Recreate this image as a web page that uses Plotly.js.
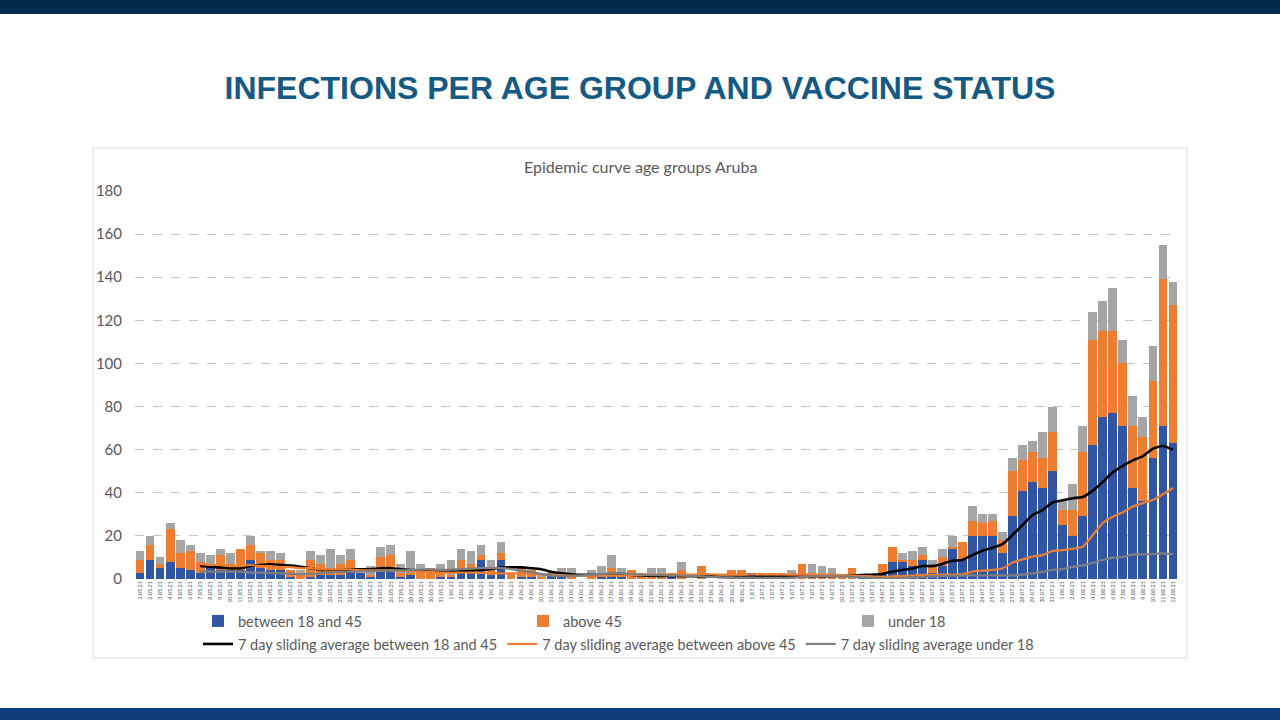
<!DOCTYPE html>
<html>
<head>
<meta charset="utf-8">
<script src="https://cdn.plot.ly/plotly-3.0.1.min.js"></script>
<style>
  html, body { margin: 0; padding: 0; background: #ffffff; }
  #chart { width: 1280px; height: 720px; }
</style>
</head>
<body>
<div id="chart"></div>
<script>
// Day categories (1 May 2021 - 12 Aug 2021)
const dates = [
  "1.05.21","2.05.21","3.05.21","4.05.21","5.05.21","6.05.21","7.05.21","8.05.21","9.05.21","10.05.21",
  "11.05.21","12.05.21","13.05.21","14.05.21","15.05.21","16.05.21","17.05.21","18.05.21","19.05.21","20.05.21",
  "21.05.21","22.05.21","23.05.21","24.05.21","25.05.21","26.05.21","27.05.21","28.05.21","29.05.21","30.05.21",
  "31.05.21","1.06.21","2.06.21","3.06.21","4.06.21","5.06.21","6.06.21","7.06.21","8.06.21","9.06.21",
  "10.06.21","11.06.21","12.06.21","13.06.21","14.06.21","15.06.21","16.06.21","17.06.21","18.06.21","19.06.21",
  "20.06.21","21.06.21","22.06.21","23.06.21","24.06.21","25.06.21","26.06.21","27.06.21","28.06.21","29.06.21",
  "30.06.21","1.07.21","2.07.21","3.07.21","4.07.21","5.07.21","6.07.21","7.07.21","8.07.21","9.07.21",
  "10.07.21","11.07.21","12.07.21","13.07.21","14.07.21","15.07.21","16.07.21","17.07.21","18.07.21","19.07.21",
  "20.07.21","21.07.21","22.07.21","23.07.21","24.07.21","25.07.21","26.07.21","27.07.21","28.07.21","29.07.21",
  "30.07.21","31.07.21","1.08.21","2.08.21","3.08.21","4.08.21","5.08.21","6.08.21","7.08.21","8.08.21",
  "9.08.21","10.08.21","11.08.21","12.08.21"
];

// Daily infections: between 18 and 45
const between18and45 = [
  3,9,5,8,5,4,3,6,4,4, 4,9,5,4,4,1,0,1,2,2, 2,4,3,1,5,5,1,2,0,0,
  1,1,4,3,9,2,9,0,1,1, 0,3,1,0,0,0,1,3,1,0, 0,0,0,2,0,0,0,0,0,0,
  0,3,0,0,0,0,0,0,0,0, 0,0,1,1,3,8,8,6,9,3, 6,14,9,20,20,20,12,29,41,45,
  42,50,25,20,29,62,75,77,71,42, 36,56,71,63
];
// Daily infections: above 45
const above45 = [
  6,7,2,15,7,9,5,1,7,3, 10,7,7,5,5,3,3,8,5,2, 5,5,0,1,5,6,2,1,4,5,
  2,1,5,4,2,3,3,3,4,3, 1,0,1,1,0,1,2,2,2,4, 3,2,2,1,4,0,6,0,0,4,
  4,0,3,3,3,1,7,3,2,2, 2,5,0,0,4,7,1,3,2,3, 4,1,8,7,6,7,6,21,14,14,
  14,18,7,12,30,49,40,38,29,29, 30,36,68,64
];
// Daily infections: under 18
const under18 = [
  4,4,3,3,6,3,4,4,3,5, 0,4,1,4,3,0,1,4,4,10, 4,5,0,4,5,5,4,10,3,0,
  4,7,5,6,5,4,5,0,0,0, 1,0,3,4,0,3,3,6,2,0, 0,3,3,0,4,0,0,0,0,0,
  0,0,0,0,0,3,0,4,4,3, 0,0,0,0,0,0,3,4,4,3, 4,5,0,7,4,3,4,6,7,5,
  12,12,4,12,12,13,14,20,11,14, 9,16,16,11
];

// 7 day sliding averages (start at 7.05.21)
const avgStart = 6;
const avg18to45 = [
  6,5.7,5.3,5,5,6,6.5,6.8,6.5,6.2, 5.7,5,4.2,4.2,4.2,4.5,4.5,4.5,5,
  5,4.5,4.2,3.9,3.4,3.4,3.4,3.6,3.9,4.2, 4.6,5.3,5.4,5.4,5,4.5,3.4,2.6,2.2,1.9, 1.9,1.9,2.3,2.3,1.9,
  1.6,1.5,1.4,1.4,1.4,1.3,1.2,1.2,1,1, 1,1,1,1,1,1.2,1.2,1.2,1.3,1.4, 1.5,1.6,1.8,2,
  2.3,3.4,4.2,4.9,6,6,7,8.5,8.8,11.1, 13.1,14.5,16.2,20.4,25,29.7,32,35.5,36.5,37.5,
  38,41,45,49.5,52.5,55,57,60.5,61.7,60
];
const avgAbove45 = [
  7,6.5,6.5,6,6,6.5,6,6,5.5,5.5, 5,5,4.5,4.5,4.5,4.5,4,4,4,
  4,3.8,3.6,3.4,3.2,3,3,3,3,2.8, 2.8,2.6,2.6,2.6,2.4,2.2,2,1.8,1.6,1.5, 1.5,1.5,1.6,1.6,1.8,
  1.8,2,2,2,2,2,2.2,2.2,2,2, 2,2.2,2.2,2.2,2.2,2,2,2,2,2, 1.8,1.6,1.4,1.2,
  1,1.2,1.4,1.6,1.9,1.9,2,2,2.2,3.4, 3.9,4.2,4.9,7.6,9.1,10.4,11.1,13,13.4,14.1,
  15,20.4,26,28.9,31,33.6,35.2,36.6,39.3,42.2
];
const avgUnder18 = [
  3.6,3.4,3.4,3.4,3.4,3,3,2.8,2.6,2.4, 2.2,2.4,2.6,3,3.2,3.4,3.4,3.6,3.8,
  4,4,4.2,4.4,4.4,4.2,4.4,4.6,4.8,5, 5,5,4.6,3.8,3.2,2.4,1.6,1.4,1.4,1.6, 2,2.4,2.6,2.6,2.4,
  2,1.8,1.8,1.6,1.6,1.4,1.2,1,0.8,0.8, 0.6,0.6,0.5,0.5,0.5,0.6,1,1.2,1.4,1.4, 1.2,1,0.8,0.5,
  0.3,0.3,0.5,0.8,1,1.2,1.4,1.6,1.6,1.7, 1.7,1.7,1.7,1.7,2,2.6,3.3,4.3,4.6,5.6,
  6.3,7.5,8.8,9.8,10.2,11.4,11.4,11.6,11.9,11.6
];

const seriesNames = ["between 18 and 45", "above 45", "under 18"];
const avgNames = [
  "7 day sliding average between 18 and 45",
  "7 day sliding average between above 45",
  "7 day sliding average under 18"
];

const barColors = ["#2f55a3", "#ed7d31", "#a5a5a5"];
const lineColors = ["#000000", "#ed7d31", "#7f7f7f"];
const textColor = "#595959";
const fontFam = "Lato, 'Open Sans', sans-serif";

const barValues = [between18and45, above45, under18];
const traces = [];
barValues.forEach((vals, i) => {
  traces.push({
    type: "bar", x: dates, y: vals, name: seriesNames[i],
    marker: { color: barColors[i], line: { width: 0 } },
    legend: "legend", hoverinfo: "x+y+name"
  });
});
const avgValues = [avg18to45, avgAbove45, avgUnder18];
const avgDates = dates.slice(avgStart);
avgValues.forEach((vals, i) => {
  traces.push({
    type: "scatter", mode: "lines", x: avgDates, y: vals, name: avgNames[i],
    line: { color: lineColors[i], width: i === 0 ? 2.6 : 2.2, shape: "spline", smoothing: 0.6 },
    legend: "legend2"
  });
});

// layout helpers: convert page pixels to paper coordinates
const L = 135, R = 1178, T = 191, B = 579;
const px = x => (x - L) / (R - L);
const py = y => (B - y) / (B - T);

const layout = {
  width: 1280, height: 720,
  margin: { l: L, r: 1280 - R, t: T, b: 720 - B, pad: 0 },
  paper_bgcolor: "#ffffff",
  plot_bgcolor: "rgba(0,0,0,0)",
  barmode: "stack",
  bargap: 0.12,
  showlegend: true,
  font: { family: fontFam, color: textColor },
  title: {
    text: "INFECTIONS PER AGE GROUP AND VACCINE STATUS",
    font: { family: "'Liberation Sans Narrow', 'Liberation Sans', Arial, sans-serif", size: 32, color: "#145a83", weight: "bold" },
    x: 0.5, xref: "container", xanchor: "center",
    y: 1 - 88 / 720, yref: "container", yanchor: "middle"
  },
  xaxis: {
    type: "category", tickmode: "linear", tick0: 0, dtick: 1,
    tickangle: -90, tickfont: { size: 5.5, color: textColor, family: fontFam },
    showgrid: false, showline: false, zeroline: false, ticks: "",
    range: [-0.5, dates.length - 0.5], fixedrange: true
  },
  yaxis: {
    range: [0, 180], tickmode: "linear", tick0: 0, dtick: 20,
    showgrid: true, gridcolor: "#c4c4c4", griddash: "dash", gridwidth: 1,
    zeroline: false, showline: false, ticks: "",
    tickfont: { size: 15, color: textColor, family: fontFam },
    ticklabelstandoff: 12, fixedrange: true
  },
  legend: {
    orientation: "h", x: px(198), xanchor: "left", y: py(621), yanchor: "middle",
    entrywidth: 280, entrywidthmode: "pixels",
    font: { size: 14.5, color: textColor, family: fontFam },
    bgcolor: "rgba(0,0,0,0)", traceorder: "normal"
  },
  legend2: {
    orientation: "h", x: px(198), xanchor: "left", y: py(644), yanchor: "middle",
    font: { size: 14.5, color: textColor, family: fontFam },
    bgcolor: "rgba(0,0,0,0)", traceorder: "normal", itemwidth: 30
  },
  annotations: [{
    text: "Epidemic curve age groups Aruba",
    xref: "paper", yref: "paper", x: px(640), y: py(166),
    xanchor: "center", yanchor: "middle", showarrow: false,
    font: { size: 16, color: textColor, family: fontFam }
  }],
  shapes: [
    { type: "rect", xref: "paper", yref: "paper", x0: px(93), x1: px(1187), y0: py(658), y1: py(148),
      line: { color: "#dcdcdc", width: 1 }, fillcolor: "#ffffff", layer: "below" },
    { type: "rect", xref: "paper", yref: "paper", x0: px(0), x1: px(1280), y0: py(14), y1: py(0),
      line: { width: 0 }, fillcolor: "#032a4a", layer: "below" },
    { type: "rect", xref: "paper", yref: "paper", x0: px(0), x1: px(1280), y0: py(720), y1: py(708),
      line: { width: 0 }, fillcolor: "#0f3e7a", layer: "below" }
  ]
};

Plotly.newPlot("chart", traces, layout, { displayModeBar: false, staticPlot: true });
</script>
</body>
</html>
